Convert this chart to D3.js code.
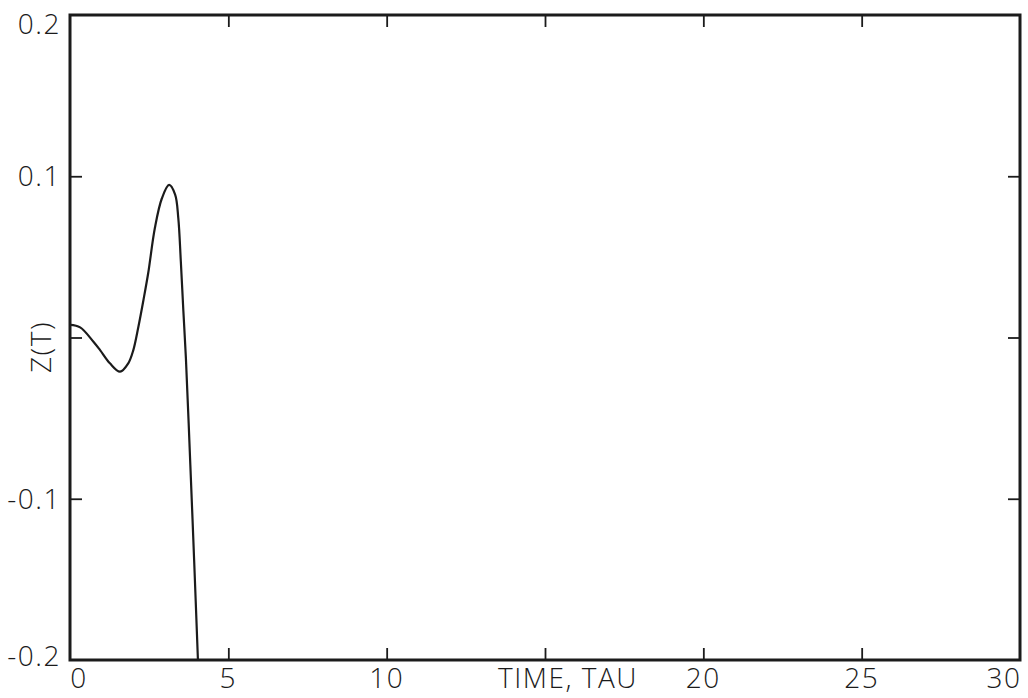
<!DOCTYPE html>
<html>
<head>
<meta charset="utf-8">
<script src="https://cdn.jsdelivr.net/npm/d3@7"></script>
<style>
  html, body { margin: 0; padding: 0; background: #fff; }
  svg { display: block; }
  text { font-family: "Open Sans", "DejaVu Sans", sans-serif; font-weight: 300; fill: #1b1b1b; letter-spacing: 1.5px; }
</style>
</head>
<body>
<svg id="chart" width="1028" height="698"></svg>
<script>
// Z(T) response against time (TAU)
const tValues = [0.00, 0.32, 0.74, 0.95, 1.26, 1.58, 1.84, 2.00, 2.16, 2.32, 2.47, 2.68, 2.90, 3.13, 3.32, 3.42, 3.50, 3.58, 3.66, 3.80, 3.92, 4.04];
const zValues = [0.0078, 0.0063, -0.0026, -0.0078, -0.0160, -0.0212, -0.0160, -0.0078, 0.0067, 0.0233, 0.0400, 0.0679, 0.0862, 0.0946, 0.0886, 0.0740, 0.0471, 0.0164, -0.0128, -0.079, -0.138, -0.200];

const xTickValues = [5, 10, 15, 20, 25];
const yTickValues = [0.1, 0, -0.1];
const xLabelValues = [0, 5, 10, 20, 25, 30];
const xLabelText = ["0", "5", "10", "20", "25", "30"];
const yLabelValues = [0.2, 0.1, -0.1, -0.2];
const yLabelText = ["0.2", "0.1", "-0.1", "-0.2"];
const xTitle = "TIME, TAU";
const yTitle = "Z(T)";

const svg = d3.select("#chart");
const ink = "#1b1b1b";
const m = { left: 70, right: 1020, top: 15, bottom: 660 };

const x = d3.scaleLinear().domain([0, 30]).range([m.left, m.right]);
const y = d3.scaleLinear().domain([-0.2, 0.2]).range([m.bottom, m.top]);

// clip the curve to the frame
svg.append("defs").append("clipPath").attr("id", "plot-clip")
  .append("rect").attr("x", m.left).attr("y", m.top)
  .attr("width", m.right - m.left).attr("height", m.bottom - m.top);

// inward ticks on all four sides
const tickLen = 12;
function styleAxis(g) {
  g.select(".domain").remove();
  g.selectAll(".tick line").attr("stroke", ink).attr("stroke-width", 1.8);
}
svg.append("g").attr("transform", `translate(0,${m.bottom})`)
  .call(d3.axisBottom(x).tickValues(xTickValues).tickSize(-tickLen).tickFormat(""))
  .call(styleAxis);
svg.append("g").attr("transform", `translate(0,${m.top})`)
  .call(d3.axisTop(x).tickValues(xTickValues).tickSize(-tickLen).tickFormat(""))
  .call(styleAxis);
svg.append("g").attr("transform", `translate(${m.left},0)`)
  .call(d3.axisLeft(y).tickValues(yTickValues).tickSize(-tickLen).tickFormat(""))
  .call(styleAxis);
svg.append("g").attr("transform", `translate(${m.right},0)`)
  .call(d3.axisRight(y).tickValues(yTickValues).tickSize(-tickLen).tickFormat(""))
  .call(styleAxis);

// frame
svg.append("rect")
  .attr("x", m.left).attr("y", m.top)
  .attr("width", m.right - m.left).attr("height", m.bottom - m.top)
  .attr("fill", "none").attr("stroke", ink).attr("stroke-width", 3);

// curve
const line = d3.line()
  .x((d, i) => x(tValues[i]))
  .y(d => y(d))
  .curve(d3.curveCatmullRom.alpha(0.5));
svg.append("path")
  .datum(zValues)
  .attr("clip-path", "url(#plot-clip)")
  .attr("d", line)
  .attr("fill", "none")
  .attr("stroke", ink)
  .attr("stroke-width", 2.2)
  .attr("stroke-linejoin", "round");

// x labels
const xShift = { 0: 9, 30: -16 };
svg.append("g").selectAll("text")
  .data(xLabelValues)
  .join("text")
  .attr("x", d => x(d) + (xShift[d] || 0))
  .attr("y", 688)
  .attr("text-anchor", "middle")
  .attr("font-size", 28)
  .text((d, i) => xLabelText[i]);

svg.append("text")
  .attr("x", 568).attr("y", 688)
  .attr("text-anchor", "middle")
  .attr("font-size", 28)
  .text(xTitle);

// y labels
const yShift = { 0.2: 9, "-0.2": -4 };
svg.append("g").selectAll("text")
  .data(yLabelValues)
  .join("text")
  .attr("x", 61)
  .attr("y", d => y(d) + (yShift[d] || 0))
  .attr("dy", "0.36em")
  .attr("text-anchor", "end")
  .attr("font-size", 28)
  .text((d, i) => yLabelText[i]);

svg.append("text")
  .attr("transform", "translate(51,347) rotate(-90)")
  .attr("text-anchor", "middle")
  .attr("font-size", 28)
  .text(yTitle);
</script>
</body>
</html>
